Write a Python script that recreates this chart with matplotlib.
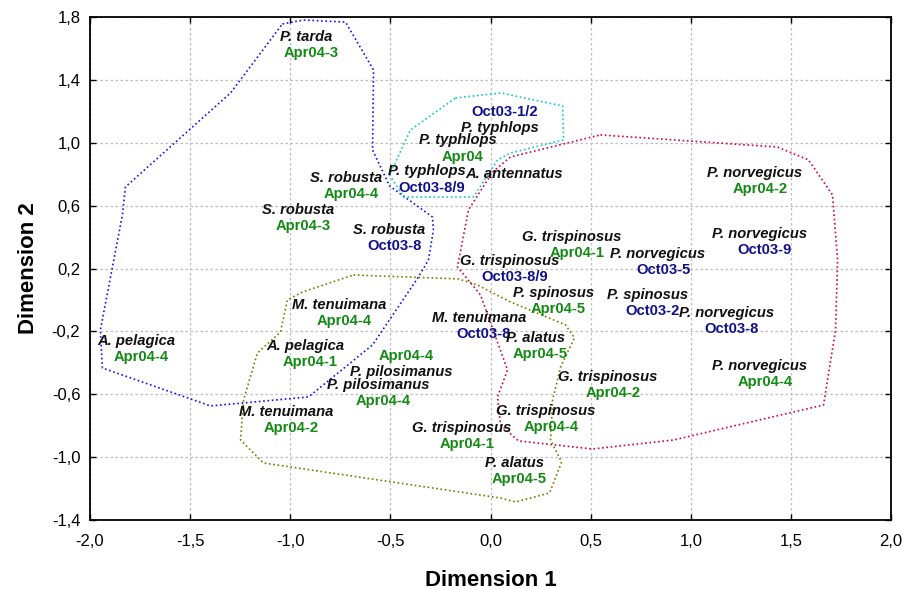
import matplotlib
matplotlib.use("Agg")
import matplotlib.pyplot as plt
from matplotlib.ticker import FuncFormatter, FixedLocator

# Sample labels: species name, sample code, ordination coordinates
species = [
    "P. tarda", "S. robusta", "S. robusta", "S. robusta",
    "P. typhlops", "P. typhlops", "P. typhlops", "A. antennatus",
    "P. norvegicus", "P. norvegicus", "G. trispinosus", "P. norvegicus",
    "G. trispinosus", "P. spinosus", "P. spinosus", "P. norvegicus",
    "M. tenuimana", "P. alatus", "P. norvegicus", "G. trispinosus",
    "G. trispinosus", "G. trispinosus", "P. alatus", "M. tenuimana",
    "A. pelagica", "A. pelagica", "P. pilosimanus", "P. pilosimanus",
    "M. tenuimana",
]
codes = [
    "Apr04-3", "Apr04-4", "Apr04-3", "Oct03-8",
    "Oct03-8/9", "Apr04", "Oct03-1/2", "",
    "Apr04-2", "Oct03-9", "Apr04-1", "Oct03-5",
    "Oct03-8/9", "Apr04-5", "Oct03-2", "Oct03-8",
    "Oct03-8", "Apr04-5", "Apr04-4", "Apr04-2",
    "Apr04-4", "Apr04-1", "Apr04-5", "Apr04-4",
    "Apr04-4", "Apr04-1", "Apr04-4", "Apr04-4",
    "Apr04-2",
]
dim1 = [
    -0.909, -0.709, -0.949, -0.494,
    -0.305, -0.150, 0.060, 0.130,
    1.333, 1.358, 0.419, 0.849,
    0.110, 0.325, 0.799, 1.189,
    -0.045, 0.235, 1.358, 0.599,
    0.290, -0.130, 0.130, -0.744,
    -1.758, -0.914, -0.434, -0.549,
    -1.009,
]
dim2 = [
    1.622, 0.725, 0.522, 0.394,
    0.765, 0.965, 1.145, 0.751,
    0.757, 0.369, 0.350, 0.242,
    0.197, -0.006, -0.019, -0.134,
    -0.165, -0.293, -0.471, -0.541,
    -0.757, -0.865, -1.088, -0.083,
    -0.312, -0.344, -0.407, -0.592,
    -0.763,
]
# Labels whose sample code sits above the species name
code_above = {6, 26}

x_ticks = [-2.0, -1.5, -1.0, -0.5, 0.0, 0.5, 1.0, 1.5, 2.0]
y_ticks = [-1.4, -1.0, -0.6, -0.2, 0.2, 0.6, 1.0, 1.4, 1.8]

# Group outlines (Dimension 1, Dimension 2)
blue_x = [-1.039, -0.934, -0.724, -0.584, -0.589, -0.504, -0.290, -0.285, -0.310,
          -0.360, -0.589, -0.909, -1.233, -1.398, -1.938, -1.948, -1.838, -1.823,
          -1.298]
blue_y = [1.756, 1.781, 1.768, 1.463, 0.954, 0.725, 0.528, 0.445, 0.254,
          0.146, -0.286, -0.617, -0.655, -0.674, -0.433, -0.191, 0.541, 0.719,
          1.317]
cyan_x = [-0.175, 0.050, 0.360, 0.365, 0.100, 0.035, -0.085, -0.434, -0.504, -0.400]
cyan_y = [1.285, 1.317, 1.234, 1.018, 0.935, 0.891, 0.655, 0.655, 0.795, 1.081]
red_x = [0.549, 1.433, 1.588, 1.708, 1.733, 1.723, 1.663, 0.914, 0.509, 0.140,
         0.050, 0.035, 0.085, -0.050, -0.165, -0.110, 0.010, 0.100]
red_y = [1.050, 0.973, 0.891, 0.668, 0.254, -0.191, -0.668, -0.891, -0.948, -0.897,
         -0.795, -0.617, -0.445, 0.032, 0.210, 0.573, 0.814, 0.910]
olive_x = [-0.684, -0.160, -0.065, 0.100, 0.375, 0.419, 0.350, 0.310, 0.300, 0.355,
           0.295, 0.125, 0.050, -1.134, -1.248, -1.233, -1.164, -1.049, -1.014, -0.939]
olive_y = [0.159, 0.134, 0.095, -0.013, -0.159, -0.242, -0.426, -0.636, -0.891, -1.031,
           -1.228, -1.285, -1.260, -1.037, -0.891, -0.636, -0.337, -0.204, 0.000, 0.051]

outlines = [
    (blue_x, blue_y, "#1010ff"),
    (cyan_x, cyan_y, "#10c8c8"),
    (red_x, red_y, "#d80048"),
    (olive_x, olive_y, "#7a7a00"),
]

plt.rcParams["font.family"] = ["Liberation Sans", "DejaVu Sans"]

fig = plt.figure(figsize=(9.07, 5.89), dpi=100)
ax = fig.add_axes([0.0992, 0.1171, 0.8832, 0.8540])

ax.set_xlim(-2.0, 2.0)
ax.set_ylim(-1.4, 1.8)
ax.xaxis.set_major_locator(FixedLocator(x_ticks))
ax.yaxis.set_major_locator(FixedLocator(y_ticks))
comma = FuncFormatter(lambda v, pos: f"{v:.1f}".replace(".", ",").replace("-0,0", "0,0"))
ax.xaxis.set_major_formatter(comma)
ax.yaxis.set_major_formatter(comma)

ax.grid(True, color="#bdbdbd", linestyle=(0, (2, 2)), linewidth=0.9)
ax.set_axisbelow(True)
ax.tick_params(direction="in", length=4, width=1.0, top=True, right=True,
               labelsize=12, pad=7)
ax.tick_params(axis="x", pad=10)
for sp in ax.spines.values():
    sp.set_linewidth(1.3)

for xs, ys, col in outlines:
    ax.plot(list(xs) + [xs[0]], list(ys) + [ys[0]], color=col,
            linestyle=(0, (1, 1.6)), linewidth=1.2)

for i, (sp_name, code, x, y) in enumerate(zip(species, codes, dim1, dim2)):
    col = "#138a13" if code.startswith("Apr") else "#10108a"
    top_is_code = i in code_above
    upper, lower = (code, sp_name) if top_is_code else (sp_name, code)
    upper_style = dict(fontweight="bold", fontstyle="normal" if top_is_code else "italic",
                       color=col if top_is_code else "#111111")
    lower_style = dict(fontweight="bold", fontstyle="italic" if top_is_code else "normal",
                       color="#111111" if top_is_code else col)
    ax.annotate(upper, (x, y), xytext=(-1.8 if not top_is_code else 1.8, 1.0),
                textcoords="offset points", ha="center", va="bottom",
                fontsize=10.6, **upper_style)
    if lower:
        ax.annotate(lower, (x, y), xytext=(1.8 if not top_is_code else -1.8, -1.0),
                    textcoords="offset points", ha="center", va="top",
                    fontsize=10.6, **lower_style)

ax.set_xlabel("Dimension 1", fontsize=16, fontweight="bold", labelpad=15)
ax.set_ylabel("Dimension 2", fontsize=16, fontweight="bold", labelpad=9)

fig.savefig("out.png", dpi=100)
